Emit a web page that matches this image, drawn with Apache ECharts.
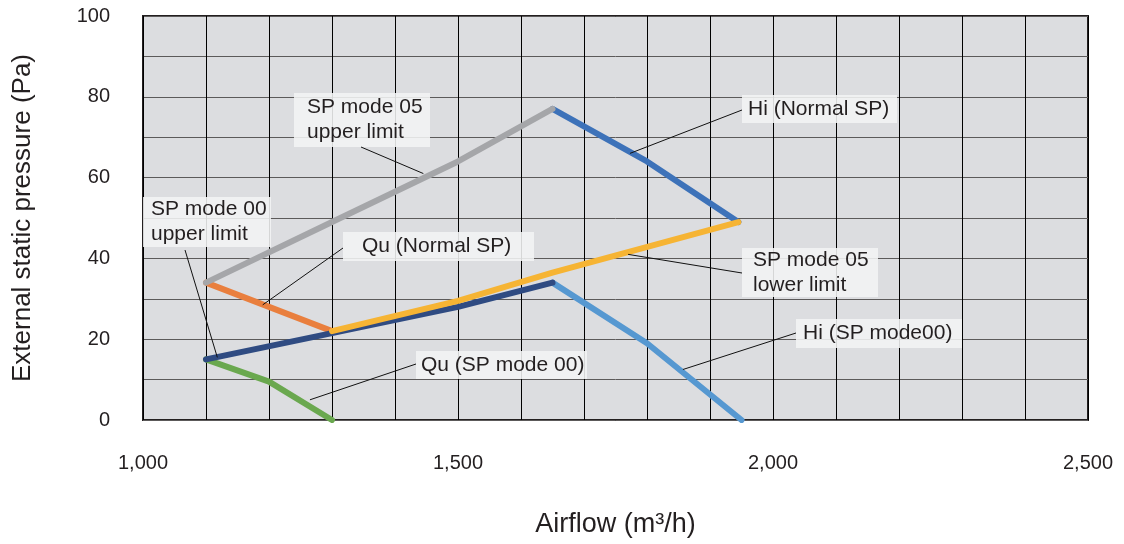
<!DOCTYPE html>
<html>
<head>
<meta charset="utf-8">
<script src="https://cdn.jsdelivr.net/npm/echarts@6/dist/echarts.min.js"></script>
<style>
  html, body { margin: 0; padding: 0; background: #fff; }
  #chart { width: 1124px; height: 544px; }
</style>
</head>
<body>
<div id="chart"></div>
<script>
// curves: [airflow m3/h, external static pressure Pa]
const upperLimit05 = [[1100, 34], [1300, 49], [1500, 64], [1650, 77]];
const hiNormalSP = [[1650, 77], [1800, 64], [1945, 49]];
const upperLimit00 = [[1100, 15], [1300, 21.5], [1500, 28], [1650, 34]];
const quNormalSP = [[1100, 34], [1300, 22]];
const lowerLimit05 = [[1300, 22], [1500, 29.5], [1650, 36.5], [1945, 49]];
const hiMode00 = [[1650, 34], [1800, 19], [1950, 0]];
const quMode00 = [[1100, 15], [1200, 9.5], [1300, 0]];

const xTickLabels = [1000, 1500, 2000, 2500];
const yTickLabels = [0, 20, 40, 60, 80, 100];

// callout texts and the point of the curve they point at
const calloutTexts = ['SP mode 05\nupper limit', 'SP mode 00\nupper limit', 'Qu (Normal SP)',
    'Qu (SP mode 00)', 'Hi (Normal SP)', 'SP mode 05\nlower limit', 'Hi (SP mode00)'];
const calloutAnchors = [[1445, 61], [1118, 15.5], [1190, 28.5], [1265, 5],
    [1773, 66], [1770, 41], [1857, 12.5]];

const myChart = echarts.init(document.getElementById('chart'));

const fmt = v => String(v).replace(/\B(?=(\d{3})+(?!\d))/g, ',');

function lineSeries(name, data, color) {
    return {
        name: name,
        type: 'line',
        data: data,
        showSymbol: false,
        symbol: 'none',
        lineStyle: { color: color, width: 6, cap: 'round', join: 'round' },
        silent: true
    };
}

const option = {
    animation: false,
    backgroundColor: '#ffffff',
    textStyle: { fontFamily: 'Liberation Sans, Arial, sans-serif' },
    grid: {
        left: 143, right: 36, top: 16, bottom: 124,
        outerBoundsMode: 'none',
        show: true,
        backgroundColor: '#dcdde0',
        borderColor: '#231f20',
        borderWidth: 2
    },
    xAxis: {
        type: 'value',
        min: 1000, max: 2500, interval: 100,
        name: 'Airflow (m³/h)',
        nameLocation: 'middle',
        nameGap: 91,
        nameTextStyle: { fontSize: 27, color: '#231f20' },
        axisLine: { show: false },
        axisTick: { show: false },
        axisLabel: {
            fontSize: 20, color: '#231f20', margin: 33,
            formatter: v => xTickLabels.indexOf(v) >= 0 ? fmt(v) : ''
        },
        splitLine: { show: true, lineStyle: { color: '#000000', width: 1 } }
    },
    yAxis: {
        type: 'value',
        min: 0, max: 100, interval: 10,
        name: 'External static pressure (Pa)',
        nameLocation: 'middle',
        nameGap: 107,
        nameTextStyle: { fontSize: 26, color: '#231f20' },
        axisLine: { show: false },
        axisTick: { show: false },
        axisLabel: {
            fontSize: 20, color: '#231f20', margin: 33,
            formatter: v => yTickLabels.indexOf(v) >= 0 ? String(v) : ''
        },
        splitLine: { show: true, lineStyle: { color: '#5c5a5a', width: 1 } }
    },
    series: [
        lineSeries('Qu (Normal SP)', quNormalSP, '#e97f3e'),
        lineSeries('Qu (SP mode 00)', quMode00, '#6aa84f'),
        lineSeries('Hi (SP mode00)', hiMode00, '#5698d1'),
        lineSeries('Hi (Normal SP)', hiNormalSP, '#3d72b9'),
        lineSeries('SP mode 05 upper limit', upperLimit05, '#a5a6a9'),
        lineSeries('SP mode 00 upper limit', upperLimit00, '#2f4b82'),
        lineSeries('SP mode 05 lower limit', lowerLimit05, '#f6b434')
    ]
};
myChart.setOption(option);

// callout boxes: [left, top, width, height, text left, leader start x, leader start y]
const boxes = [
    [294, 93, 136, 54, 307, 361, 147],
    [143, 197, 128, 50, 151, 185, 250],
    [343, 232, 191, 29, 362, 343, 248],
    [416, 351, 171, 28, 421, 416, 364],
    [742, 95, 155, 28, 748, 742, 110],
    [742, 248, 136, 49, 753, 742, 273],
    [796, 319, 166, 29, 803, 796, 333]
];

const graphics = [];
calloutTexts.forEach((txt, i) => {
    const b = boxes[i];
    const p = myChart.convertToPixel({ gridIndex: 0 }, calloutAnchors[i]);
    graphics.push({
        type: 'rect', z: 100,
        shape: { x: b[0], y: b[1], width: b[2], height: b[3] },
        style: { fill: 'rgba(243,244,244,0.88)' }
    });
    graphics.push({
        type: 'line', z: 101,
        shape: { x1: b[5], y1: b[6], x2: p[0], y2: p[1] },
        style: { stroke: '#111111', lineWidth: 1 }
    });
    graphics.push({
        type: 'text', z: 102,
        x: b[4], y: b[1] + b[3] / 2,
        style: {
            text: txt,
            fill: '#231f20',
            font: '21px "Liberation Sans", Arial, sans-serif',
            lineHeight: 25,
            verticalAlign: 'middle',
            align: 'left'
        }
    });
});
myChart.setOption({ graphic: graphics });

window.addEventListener('resize', () => myChart.resize());
</script>
</body>
</html>
